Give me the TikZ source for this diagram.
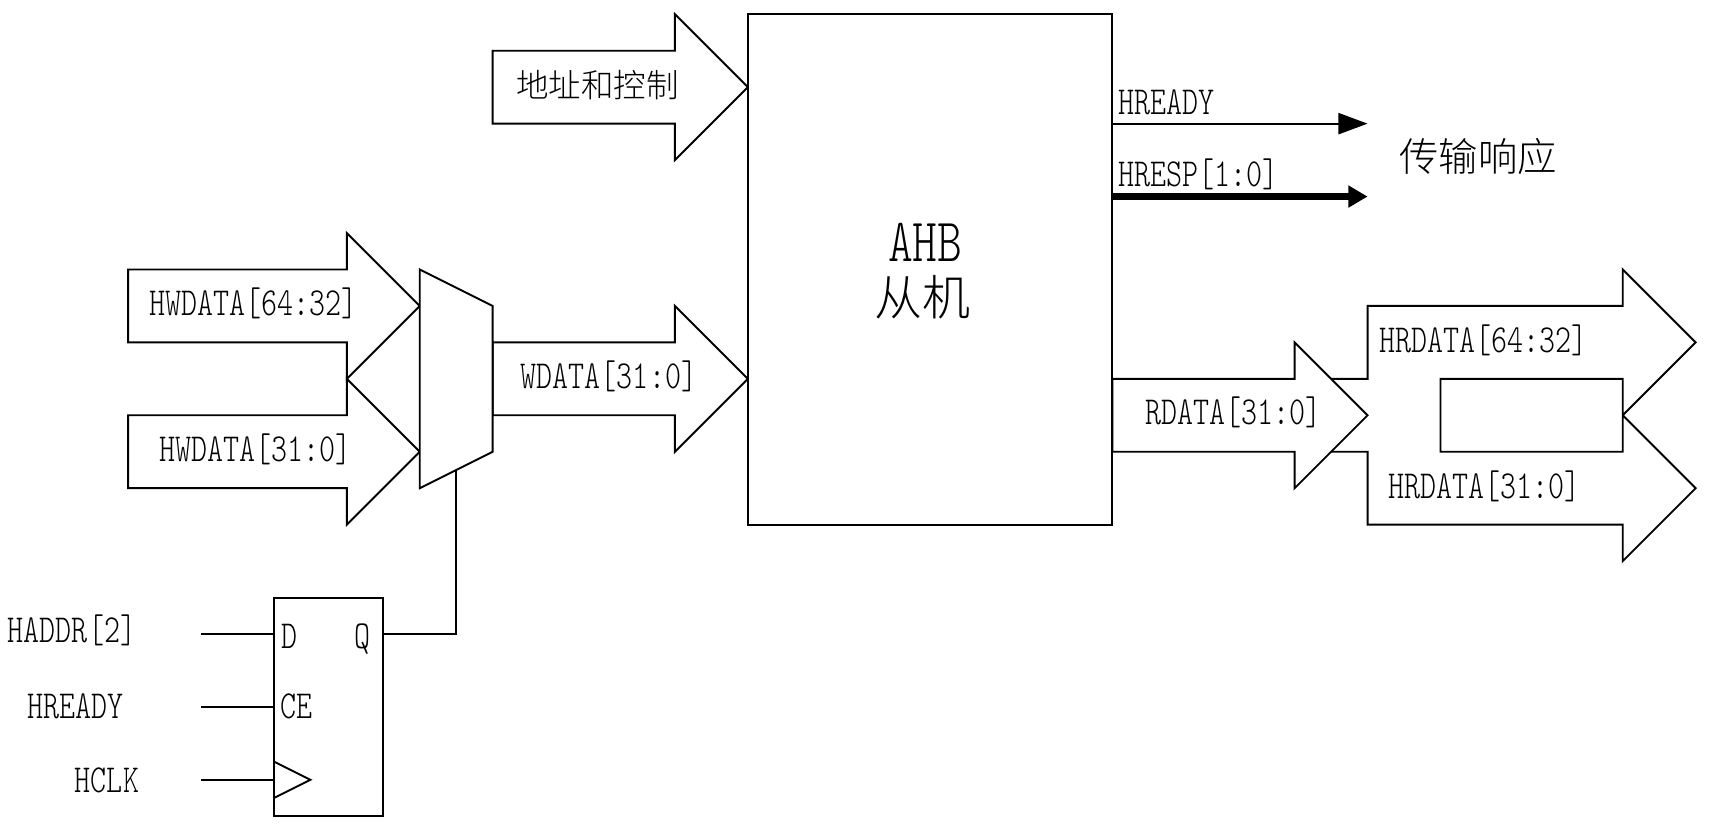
\documentclass[tikz,border=0pt]{standalone}
\usepackage{fontspec}
\usepackage{tikz}
\usetikzlibrary{arrows.meta}
\newfontfamily\cjk{Noto Sans CJK SC Light}
\newfontfamily\ltn[FakeStretch=0.768]{Latin Modern Mono Light}

\begin{document}
\begin{tikzpicture}[line width=1.5pt,bus/.style={fill=white},
    lbl/.style={inner sep=0pt,font=\ltn\fontsize{31}{33}\selectfont,text height=23pt,text depth=5pt},
    han/.style={inner sep=0pt,font=\cjk\fontsize{#1}{#1}\selectfont},
    han/.default=25.4]
    \useasboundingbox (-3.515,0.392) rectangle (43.915,-22.43);

    % address and control
    \draw[bus] (10,-1) -- (15,-1) -- (15,0) -- (17,-2) -- (15,-4) -- (15,-3) -- (10,-3) -- cycle;
    \node[han] (addr) at (12.88,-1.94) {地址和控制};

    % write side
    \draw[bus] (0,-7) -- (6,-7) -- (6,-6) -- (8,-8) -- (6,-10) -- (6,-9) -- (0,-9) -- cycle;
    \draw[bus] (0,-11) -- (6,-11) -- (6,-10) -- (8,-12) -- (6,-14) -- (6,-13) -- (0,-13) -- cycle;
    \draw[bus] (10,-9) -- (15,-9) -- (15,-8) -- (17,-10) -- (15,-12) -- (15,-11) -- (10,-11) -- cycle;
    \draw[bus] (8,-7) -- (10,-8) -- (10,-12) -- (8,-13) -- cycle;
    \coordinate (muxsel) at (9,-12.5);
    \node[lbl] (hw1) at (3.45,-7.95) {HWDATA[64:32]};
    \node[lbl] (hw0) at (3.49,-11.95) {HWDATA[31:0]};
    \node[lbl] (wd) at (13.19,-9.95) {WDATA[31:0]};

    % slave
    \node[draw,minimum width=10cm,minimum height=14cm,inner sep=0pt] (slave) at (22,-7) {};
    \node[inner sep=0pt,font=\ltn\fontsize{48}{50}\selectfont] (ahb) at (21.87,-6.25) {AHB};
    \node[han=37.5] (cong) at (21.8,-7.77) {从机};

    % response
    \coordinate (rdy) at (27,-3);
    \coordinate (rdyend) at (34,-3);
    \coordinate (rsp) at (27,-5);
    \coordinate (rspend) at (34,-5);
    \draw[-{Triangle[length=0.8cm,width=0.58cm]}] (rdy) -- (rdyend);
    \draw[line width=4.8pt,-{Triangle[length=0.53cm,width=0.58cm]}] (rsp) -- (rspend);
    \node[lbl,anchor=west] (rdylbl) at (27.13,-2.42) {HREADY};
    \node[lbl,anchor=west] (rsplbl) at (27.13,-4.41) {HRESP[1:0]};
    \node[han=30.8] (resp) at (37.03,-3.9) {传输响应};

    % read side
    \draw[bus] (33,-10) -- (34,-10) -- (34,-8) -- (41,-8) -- (41,-7) -- (43,-9) -- (41,-11) -- (41,-10) -- (36,-10) -- (36,-12) -- (41,-12) -- (41,-11) -- (43,-13) -- (41,-15) -- (41,-14) -- (34,-14) -- (34,-12) -- (33,-12);
    \draw[bus] (27,-10) -- (32,-10) -- (32,-9) -- (34,-11) -- (32,-13) -- (32,-12) -- (27,-12) -- cycle;
    \node[lbl] (rd) at (30.32,-10.95) {RDATA[31:0]};
    \node[lbl] (hr1) at (37.18,-8.97) {HRDATA[64:32]};
    \node[lbl] (hr0) at (37.2,-12.97) {HRDATA[31:0]};

    % flip flop
    \node[draw,minimum width=3cm,minimum height=6cm,inner sep=0pt] (ff) at (5.5,-19) {};
    \draw (4,-20.5) -- (5,-21) -- (4,-21.5);
    \coordinate (din) at (2,-17);
    \coordinate (cein) at (2,-19);
    \coordinate (clkin) at (2,-21);
    \draw (din) -- (din -| ff.west);
    \draw (cein) -- (cein -| ff.west);
    \draw (clkin) -- (clkin -| ff.west);
    \draw (ff.east |- din) -| (muxsel);
    \node[lbl] (d) at (4.43,-17.07) {D};
    \node[lbl] (q) at (6.42,-17.07) {Q};
    \node[lbl] (ce) at (4.62,-19) {CE};
    \node[lbl] (haddr) at (-1.54,-16.92) {HADDR[2]};
    \node[lbl] (hrdy) at (-1.44,-19) {HREADY};
    \node[lbl] (hclk) at (-0.58,-21.03) {HCLK};
\end{tikzpicture}
\end{document}
